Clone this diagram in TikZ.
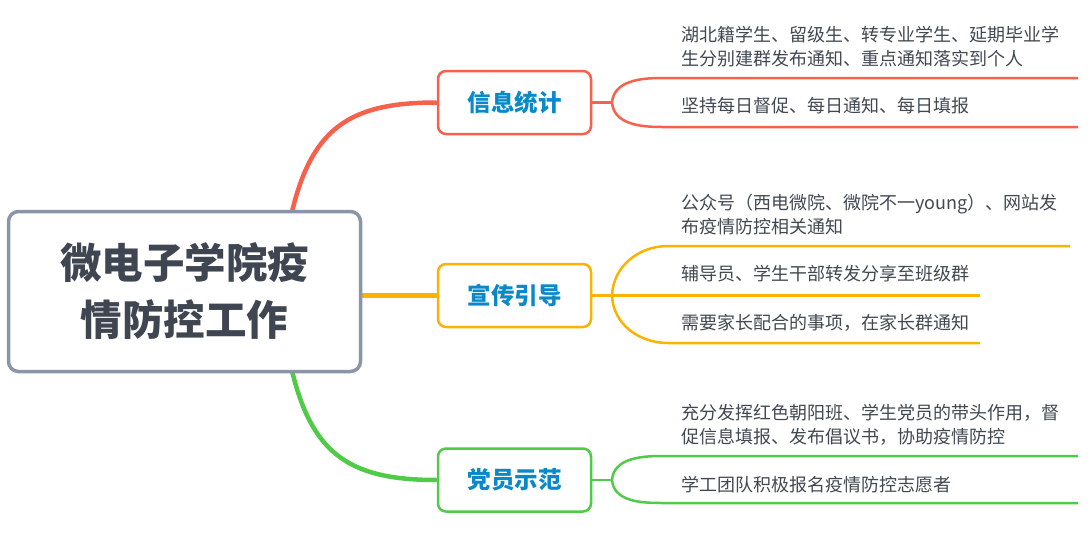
\documentclass[tikz,border=0pt]{standalone}
\usepackage{fontspec}
\setmainfont{Noto Sans CJK SC}
\usetikzlibrary{backgrounds}

\definecolor{infored}{HTML}{F7604A}
\definecolor{pubyel}{HTML}{FBB300}
\definecolor{partygrn}{HTML}{4FCB47}
\definecolor{rootgray}{HTML}{8A95A8}
\definecolor{roottext}{HTML}{3F4651}
\definecolor{topictext}{HTML}{0A89C9}
\definecolor{leafgray}{HTML}{414851}

\tikzset{
  rootbox/.style={draw=rootgray, line width=3.5pt, fill=white, rounded corners=10pt,
    minimum width=352pt, minimum height=160pt, align=center, text=roottext,
    font=\fontsize{41.5}{57}\selectfont\bfseries},
  topicbox/.style={line width=2.5pt, fill=white, rounded corners=8pt,
    minimum width=153pt, minimum height=63pt, text=topictext,
    font=\fontsize{23.5}{26}\selectfont\bfseries},
  leaftext/.style={anchor=west, inner sep=0pt, align=left, text=leafgray,
    font=\fontsize{18}{24}\selectfont},
  branch/.style={line width=2.5pt},
  mainbranch/.style={line width=4.5pt}
}

\begin{document}
\begin{tikzpicture}[x=1pt, y=-1pt]
  \useasboundingbox (0,0) rectangle (1090,546);

  % centre and topics
  \node[rootbox] (root) at (184.5,291.5) {微电子学院疫\\情防控工作};
  \node[topicbox, draw=infored] (info) at (514.5,102.5) {信息统计};
  \node[topicbox, draw=pubyel] (pub) at (514.5,295.5) {宣传引导};
  \node[topicbox, draw=partygrn] (party) at (514.5,480) {党员示范};

  % leaves
  \node[leaftext] (info1) at (681,47) {湖北籍学生、留级生、转专业学生、延期毕业学\\生分别建群发布通知、重点通知落实到个人};
  \node[leaftext] (info2) at (681,106) {坚持每日督促、每日通知、每日填报};
  \node[leaftext] (pub1) at (681,215) {公众号（西电微院、微院不一young）、网站发\\布疫情防控相关通知};
  \node[leaftext] (pub2) at (681,274) {辅导员、学生干部转发分享至班级群};
  \node[leaftext] (pub3) at (681,323) {需要家长配合的事项，在家长群通知};
  \node[leaftext] (party1) at (681,424.5) {充分发挥红色朝阳班、学生党员的带头作用，督\\促信息填报、发布倡议书，协助疫情防控};
  \node[leaftext] (party2) at (681,485) {学工团队积极报名疫情防控志愿者};

  % fork points and line ends
  \coordinate (infofork) at (612,102.5);
  \coordinate (info1s) at (662,78);
  \coordinate (info1e) at (1078,78);
  \coordinate (info2s) at (662,127);
  \coordinate (info2e) at (1078,127);
  \coordinate (pubfork) at (612,295.5);
  \coordinate (pub1s) at (668,246);
  \coordinate (pub1e) at (1070,246);
  \coordinate (pub2e) at (980,295.5);
  \coordinate (pub3s) at (668,343);
  \coordinate (pub3e) at (980,343);
  \coordinate (partyfork) at (612,480);
  \coordinate (party1s) at (662,456);
  \coordinate (party1e) at (1078,456);
  \coordinate (party2s) at (662,503);
  \coordinate (party2e) at (1078,503);

  \begin{scope}[on background layer]
    % root to topics
    \draw[mainbranch, infored] ([xshift=95pt]root.center) .. controls (295,140) and (330,102.5) .. (info.west);
    \draw[mainbranch, pubyel] (root.east |- pub.west) -- (pub.west);
    \draw[mainbranch, partygrn] ([xshift=95pt]root.center) .. controls (295,442) and (330,480) .. (party.west);

    % topics to leaves
    \draw[branch, infored] (info.east) -- (infofork);
    \draw[branch, infored] (infofork) to[out=85, in=180] (info1s) -- (info1e);
    \draw[branch, infored] (infofork) to[out=-85, in=180] (info2s) -- (info2e);

    \draw[branch, pubyel] (pub.east) -- (pubfork) -- (pub2e);
    \draw[branch, pubyel] (pubfork) to[out=88, in=180] (pub1s) -- (pub1e);
    \draw[branch, pubyel] (pubfork) to[out=-88, in=180] (pub3s) -- (pub3e);

    \draw[branch, partygrn] (party.east) -- (partyfork);
    \draw[branch, partygrn] (partyfork) to[out=85, in=180] (party1s) -- (party1e);
    \draw[branch, partygrn] (partyfork) to[out=-85, in=180] (party2s) -- (party2e);
  \end{scope}
\end{tikzpicture}
\end{document}
